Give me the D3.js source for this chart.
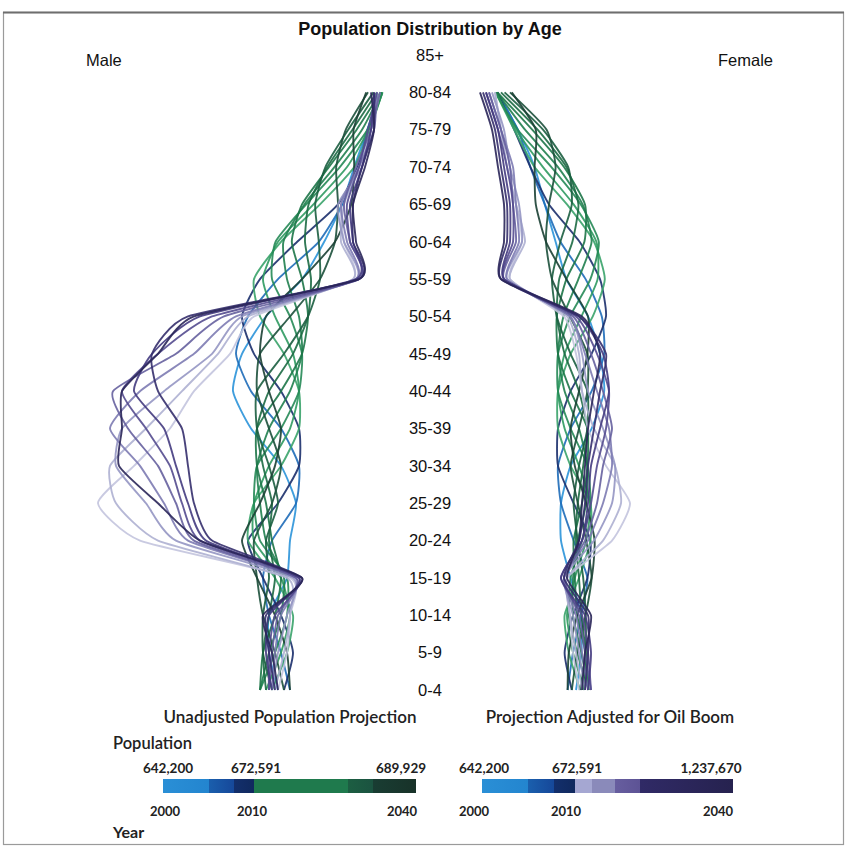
<!DOCTYPE html>
<html><head><meta charset="utf-8">
<script src="https://cdn.jsdelivr.net/npm/d3@7"></script>
<style>body{margin:0;background:#fff} svg{display:block}</style>
</head><body>
<svg id="chart" width="847" height="848"></svg>
<script>
// ---------- data ----------
const ageGroups = ["0-4","5-9","10-14","15-19","20-24","25-29","30-34","35-39","40-44","45-49","50-54","55-59","60-64","65-69","70-74","75-79","80-84","85+"];

// population in thousands, by age group 0-4 .. 80-84
const unadjYears = [2000,2005,2010,2015,2017,2020,2022,2025,2027,2030,2035,2040];
const unadjColors = ["#2b93d9","#1e6cb8","#1b2f6b","#3aa36a","#2f9a60","#268a56","#20804f","#1d7548","#1c6a44","#1b5e40","#1c503b","#1b4034"];
const maleUnadj = [
 [22,23.5,23.5,20.5,20,19,21.5,26.5,29.5,28,24,18,14.3,11.3,9.3,7.1,4.9],
 [20,21.5,23.5,24.5,23,19,18.5,21.5,26.5,29,27,22,15.2,11.3,8.7,7.1,4.9],
 [21,19.5,21.5,24.5,27,22,18.5,18.5,21.5,26,28,25,18.8,12,8.7,6.7,4.9],
 [23,20.5,19.5,22.5,27,26,21.5,18.5,18.5,21,25,26,21.5,15,9.3,6.7,4.6],
 [24,21.5,20,21.5,26,26,23.5,20,18.5,19.5,22.5,24.5,22,16.1,10.5,6.9,4.6],
 [25,22.5,20.5,20.5,25,26,25.5,21.5,18.5,18,20,23,22.4,17.3,11.7,7.1,4.6],
 [25,23.5,21.5,21,24,25,25.5,23.5,20,18,18.5,20.5,21.1,17.6,12.6,8,4.8],
 [25,24.5,22.5,21.5,23,24,25.5,25.5,21.5,18,17,18,19.7,18,13.5,8.9,4.9],
 [24,24.5,23.5,22.5,23.5,23,24.5,25.5,23.5,19.5,17,16.5,17.5,16.9,13.8,9.6,5.5],
 [23,24.5,24.5,23.5,24,22,23.5,25.5,25.5,21,17,15,15.2,15.8,14.1,10.3,6.1],
 [21,22.5,24.5,25.5,26,23,21.5,23.5,25.5,25,20,15,12.5,12,12.3,10.7,7],
 [20,20.5,22.5,25.5,28,25,22.5,21.5,23.5,25,24,18,12.5,9.8,9.3,9.4,7.3]
];
const femaleUnadj = [
 [21,21.9,21.9,20.1,18.5,18.5,20.1,23.6,25.7,25,23,19.4,17.6,15.8,14.1,11.3,7.9],
 [19.6,20.5,21.9,22.9,20.6,18.5,18,20.1,23.6,25.7,25.3,22.6,18.4,15.8,13.4,11.3,7.9],
 [20.3,19.1,20.5,22.9,23.4,20.6,18,18,20.1,23.6,26,25,21.6,16.5,13.4,10.7,7.9],
 [21.7,19.8,19.1,21.5,23.4,23.4,20.1,18,18,20.1,23.8,25.8,24,19.5,14.1,10.7,7.6],
 [22.4,20.5,19.5,20.8,22.7,23.4,21.5,19.1,18,19.1,21.9,24.6,24.4,20.6,15.5,11,7.6],
 [23.1,21.2,19.8,20.1,22,23.4,22.9,20.1,18,18,20,23.4,24.8,21.8,16.9,11.3,7.6],
 [23.1,21.9,20.5,20.5,21.3,22.7,22.9,21.5,19.1,18,18.9,21.4,23.6,22.1,18,12.5,7.8],
 [23.1,22.6,21.2,20.8,20.6,22,22.9,22.9,20.1,18,17.8,19.4,22.4,22.5,19,13.7,7.9],
 [22.4,22.6,21.9,21.5,21,21.3,22.2,22.9,21.5,19.1,17.8,18.2,20.4,21.4,19.4,14.6,8.5],
 [21.7,22.6,22.6,22.2,21.3,20.6,21.5,22.9,22.9,20.1,17.8,17,18.4,20.3,19.7,15.5,9.1],
 [20.3,21.2,22.6,23.6,22.7,21.3,20.1,21.5,22.9,22.9,20,17,16,16.5,17.6,16.1,10],
 [19.6,19.8,21.2,23.6,24.1,22.7,20.8,20.1,21.5,22.9,23,19.4,16,14.3,14.1,14.3,10.3]
];

const adjYears = [2015,2017,2020,2022,2025,2027,2030,2035,2040];
const adjColors = ["#c3c4de","#aeb0d2","#9596c3","#7d7bb2","#66609f","#544b8f","#443b80","#352f6d","#2a2659"];
const maleAdj = [
 [22,20.5,20,20,45,52,46,40,36,30,26,9.5,11,11.5,8.5,6.5,5],
 [22.5,21,20,20.5,42,49,50,44,38,32,27,9.5,11.5,11,8.5,6.5,5.5],
 [23,22,20.5,19.5,39,44,49,48,41,33,28,9,11,12,8,6.5,5.5],
 [23,22.5,21.5,19,37,41,45,50,45,36,29,9,10.5,11.5,8.5,6,5.5],
 [23.5,23,22,19,36,39,42,47,49.5,39,31,8.5,10,11,9,6.5,5],
 [23.5,23.5,22.5,18.5,35,38,40,44,48,42,33,8.5,10,10.5,8.5,7,5.5],
 [23,24,23.5,18.5,34,37,39,41,46,43,35,9,9.5,10,8,6.5,6],
 [22.5,23.5,24,18,33,36,37,38,42,43,37,8.5,9.5,9.5,8,6,6],
 [22,23,24.5,18,35,42,48.5,48,48,42,36,8.5,9,9.5,7.5,6,6.5]
];
const femaleAdj = [
 [21.5,20.5,20,19.5,27,30,26,23,22,21,19,10,12,11,9.5,8.5,7.5],
 [22,21,20,19.5,25.5,28.5,27.5,24,22,21.5,19.5,10,12.5,11,9.5,8.5,7.5],
 [22.5,21.5,20.5,19,24,27,27.5,25.5,23,22,20,9.5,12,11.5,10,9,7],
 [23,22,21,19,23,25.5,27,26.5,24.5,22.5,20,9.5,11.5,11,10.5,8.5,6.5],
 [23.5,22.5,21.5,19,22.5,24.5,25.5,27,25.5,23.5,20.5,9,11,10.5,10,8.5,6.5],
 [23.5,23,22,18.5,22,23.5,24.5,26,26.5,24.5,21,9,10.5,10.5,9.5,8,6],
 [23,23.5,22.5,18.5,22,23,23.5,25,26.5,25.5,21.5,9,10,10,9,8,6],
 [22.5,23,23,19,21.5,22.5,23,24,25,26,21.5,8.5,9.5,9.5,8.5,7.5,5.5],
 [22,22.5,23.5,19.5,21.5,22,22.5,23,24,25,22,8.5,9,9,8,7,5]
];

// legend labels
const legendYears = ["2000","2010","2040"];
const unadjPopLabels = ["642,200","672,591","689,929"];
const adjPopLabels = ["642,200","672,591","1,237,670"];

// ---------- drawing ----------
const svg = d3.select("#chart");

svg.append("rect").attr("x",3.5).attr("y",12.5).attr("width",840).attr("height",832)
  .attr("fill","none").attr("stroke","#9a9a9a").attr("stroke-width",1.2);
svg.append("line").attr("x1",3).attr("x2",844).attr("y1",12.5).attr("y2",12.5)
  .attr("stroke","#6e6e6e").attr("stroke-width",2);

const y = d3.scalePoint().domain(ageGroups).range([690, 55]);
const xMale = d3.scaleLinear().domain([0,55]).range([410,80]);
const xFemale = d3.scaleLinear().domain([0,55]).range([450,780]);

function toPoints(vals){
  return vals.map((v,i)=>({age:ageGroups[i], v})).reverse();
}
const curve = d3.curveCardinal.tension(0.45);
const maleLine = d3.line().x(d=>xMale(d.v)).y(d=>y(d.age)).curve(curve);
const femaleLine = d3.line().x(d=>xFemale(d.v)).y(d=>y(d.age)).curve(curve);

const g = svg.append("g").attr("fill","none").attr("stroke-width",1.9).attr("stroke-linejoin","round");

function drawSet(male, female, colors, cls){
  g.selectAll("path.m"+cls).data(male).join("path").attr("class","m"+cls)
    .attr("d",d=>maleLine(toPoints(d))).attr("stroke",(d,i)=>colors[i]).attr("stroke-opacity",0.9);
  g.selectAll("path.f"+cls).data(female).join("path").attr("class","f"+cls)
    .attr("d",d=>femaleLine(toPoints(d))).attr("stroke",(d,i)=>colors[i]).attr("stroke-opacity",0.9);
}
drawSet(maleUnadj, femaleUnadj, unadjColors, "u");
drawSet(maleAdj, femaleAdj, adjColors, "a");

// age labels
svg.append("g").selectAll("text").data(ageGroups).join("text")
  .attr("x",430).attr("y",d=>y(d)).attr("dy","0.35em").attr("text-anchor","middle")
  .attr("font-family","Liberation Sans, Arial, sans-serif").attr("font-size",16.5).attr("fill","#111")
  .text(d=>d);

svg.append("text").attr("x",430).attr("y",35).attr("text-anchor","middle")
  .attr("font-family","Liberation Sans Narrow, Liberation Sans, Arial, sans-serif").attr("font-weight","bold")
  .attr("font-size",18).attr("fill","#111").text("Population Distribution by Age");
svg.append("text").attr("x",86).attr("y",66).attr("font-family","Liberation Sans, Arial, sans-serif")
  .attr("font-size",16.5).attr("fill","#111").text("Male");
svg.append("text").attr("x",773).attr("y",66).attr("text-anchor","end").attr("font-family","Liberation Sans, Arial, sans-serif")
  .attr("font-size",16.5).attr("fill","#111").text("Female");

// ---------- legends ----------
const defs = svg.append("defs");
function gradient(id, stops){
  const lg = defs.append("linearGradient").attr("id",id).attr("x1","0%").attr("x2","100%");
  stops.forEach(s=>lg.append("stop").attr("offset",s[0]).attr("stop-color",s[1]));
}
gradient("gU",[[0,"#2a8fd6"],[0.18,"#2385cf"],[0.18,"#1a5fad"],[0.28,"#16489a"],[0.28,"#132f6c"],[0.36,"#10295e"],
  [0.36,"#1f7a4d"],[0.73,"#1f7a4d"],[0.73,"#1c5e42"],[0.83,"#1b5340"],[0.83,"#193d33"],[1,"#183229"]]);
gradient("gA",[[0,"#2a8fd6"],[0.185,"#2385cf"],[0.185,"#1a5fad"],[0.285,"#16489a"],[0.285,"#132f6c"],[0.37,"#10295e"],
  [0.37,"#a5a7d2"],[0.44,"#a5a7d2"],[0.44,"#8a8aba"],[0.53,"#8a8aba"],[0.53,"#675e9f"],[0.63,"#5d5395"],
  [0.63,"#302a66"],[1,"#26224f"]]);

const legFont = "Lato, 'Open Sans', sans-serif";
function legend(x0, x1, title, titleX, popLabels, popX, yearX, grad){
  svg.append("text").attr("x",titleX).attr("y",723).attr("text-anchor","middle")
    .attr("font-family",legFont).attr("font-size",17).attr("font-weight",600).attr("fill","#222").text(title);
  svg.append("rect").attr("x",x0).attr("y",779).attr("width",x1-x0).attr("height",14).attr("fill","url(#"+grad+")");
  svg.append("g").selectAll("text").data(popLabels).join("text")
    .attr("x",(d,i)=>popX[i]).attr("y",773).attr("text-anchor","middle")
    .attr("font-family",legFont).attr("font-size",13.5).attr("font-weight",700).attr("fill","#222").text(d=>d);
  svg.append("g").selectAll("text").data(legendYears).join("text")
    .attr("x",(d,i)=>yearX[i]).attr("y",816).attr("text-anchor","middle")
    .attr("font-family",legFont).attr("font-size",13).attr("font-weight",700).attr("fill","#222").text(d=>d);
}
legend(163, 416, "Unadjusted Population Projection", 290, unadjPopLabels, [168,256,401], [165,252,402], "gU");
legend(482, 733, "Projection Adjusted for Oil Boom", 610, adjPopLabels, [484,577,711], [474,566,718], "gA");

svg.append("text").attr("x",113).attr("y",749).attr("font-family",legFont).attr("font-size",16.5)
  .attr("font-weight",600).attr("fill","#222").text("Population");
svg.append("text").attr("x",113).attr("y",838).attr("font-family",legFont).attr("font-size",16)
  .attr("font-weight",700).attr("fill","#222").text("Year");
</script>
</body></html>
